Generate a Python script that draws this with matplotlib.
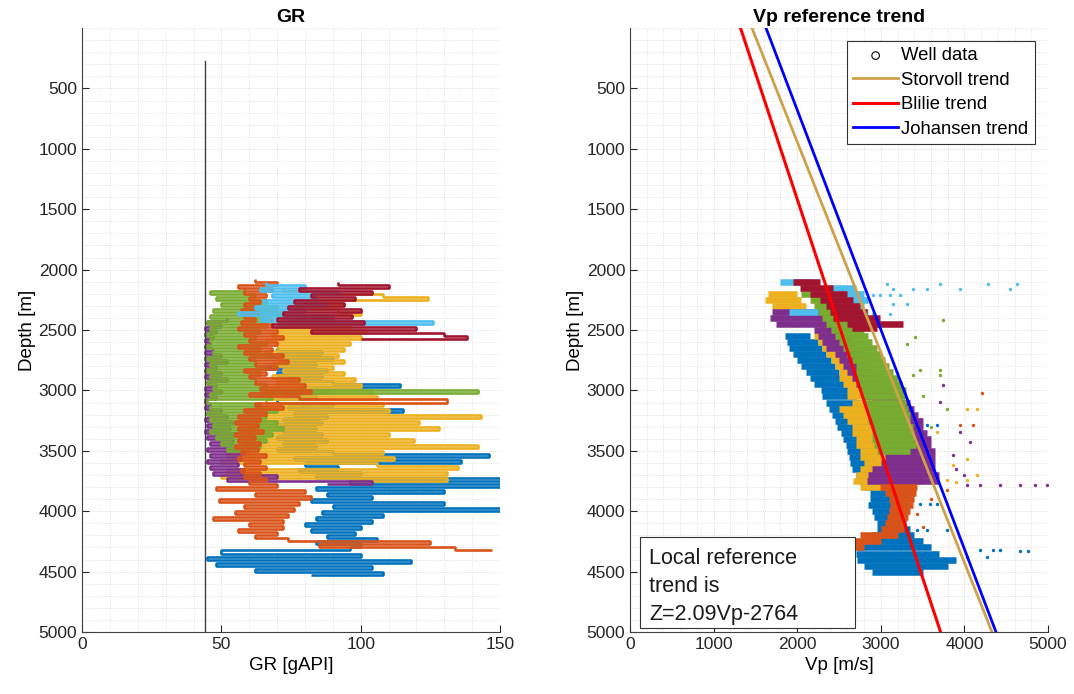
import numpy as np
import matplotlib.pyplot as plt
from matplotlib.patches import Rectangle
from matplotlib.ticker import MultipleLocator

plt.rcParams['font.family'] = ['Liberation Sans', 'DejaVu Sans']

# well colours (matlab default order)
c_blue = '#0072BD'
c_orange = '#D95319'
c_yellow = '#EDB120'
c_purple = '#7E2F8E'
c_green = '#77AC30'
c_lblue = '#4DBEEE'
c_dred = '#A2142F'

# ---------------- GR logs, one reading every 25 m from the top depth ----------------
gr_step = 25

gr_blue_top = 2650
gr_blue = [70, 86, 68, 90, 72, 84, 66, 88, 70, 86,
           74, 90, 114, 78, 88, 72, 84, 70, 90, 74,
           115, 76, 88, 72, 86, 70, 84, 72, 86, 70,
           88, 72, 84, 70, 90, 146, 76, 136, 80, 92,
           78, 100, 84, 152, 96, 155, 84, 130, 88, 104,
           82, 130, 90, 152, 86, 108, 84, 104, 80, 100,
           82, 98, 88, 106, 84, 100, 96, 50, 100, 45,
           118, 48, 104, 62, 108, 82]

gr_yellow_top = 2150
gr_yellow = [72, 90, 108, 124, 80, 94, 78, 92, 100, 76,
             90, 74, 96, 70, 102, 68, 100, 66, 96, 70,
             94, 66, 92, 70, 94, 68, 90, 72, 94, 68,
             98, 70, 100, 66, 104, 64, 106, 66, 108, 62,
             110, 64, 143, 62, 121, 60, 128, 58, 110, 56,
             119, 58, 142, 54, 108, 52, 112, 50, 106, 135,
             52, 131, 50, 131, 96]

gr_purple_top = 2400
gr_purple = [52, 45, 50, 44, 48, 44, 47, 44, 46, 44,
             47, 44, 50, 44, 52, 44, 48, 44, 50, 44,
             52, 45, 48, 44, 50, 44, 48, 44, 46, 44,
             50, 45, 52, 44, 54, 45, 53, 44, 55, 45,
             54, 46, 56, 45, 58, 46, 57, 45, 56, 46,
             58, 47, 70, 52, 104, 88]

gr_green_top = 2150
gr_green = [58, 46, 62, 48, 66, 50, 70, 47, 72, 46,
            68, 45, 66, 46, 64, 45, 62, 46, 66, 45,
            64, 47, 68, 45, 62, 46, 66, 45, 64, 46,
            62, 45, 66, 47, 142, 46, 68, 45, 64, 46,
            70, 45, 66, 46, 70, 47, 72, 46, 68, 48,
            66, 50, 64, 52, 60]

gr_orange_top = 2075
gr_orange = [62, 70, 56, 68, 58, 66, 60, 64, 58, 62,
             57, 63, 58, 62, 57, 68, 56, 70, 58, 72,
             60, 70, 56, 68, 58, 72, 60, 74, 62, 70,
             58, 66, 60, 78, 62, 80, 64, 82, 60, 78,
             131, 62, 72, 58, 66, 56, 64, 55, 63, 56,
             65, 55, 62, 56, 64, 55, 63, 57, 66, 56,
             64, 58, 66, 57, 64, 58, 66, 60, 70, 48,
             80, 62, 82, 49, 78, 58, 76, 55, 74, 47,
             72, 60, 72, 56, 70, 62, 74, 125, 85, 134,
             147]

gr_lblue_top = 2100
gr_lblue = [66, 80, 64, 92, 68, 84, 65, 88, 62, 80, 56, 90, 64, 126, 70]

gr_dred_top = 2100
gr_dred = [92, 110, 78, 104, 82, 98, 76, 94, 74, 100,
           72, 97, 70, 101, 68, 120, 82, 130, 138, 100]

# constant reference line on the GR track
cut_gr = [44.2, 44.2]
cut_depth = [270, 5000]

# ---------------- Vp ranges, every 50 m (low / high edge of the point cloud) ----------------
vp_step = 50

vp_blue_top = 2550
vp_blue_lo = [1850, 1880, 1900, 1950, 2000, 2050, 2100, 2150, 2200, 2280,
              2300, 2350, 2380, 2420, 2450, 2480, 2520, 2550, 2580, 2600,
              2620, 2630, 2650, 2700, 2750, 2800, 2870, 2870, 2850, 2900,
              2920, 2950, 2950, 2900, 2800, 2710, 2700, 2720, 2800, 2900]
vp_blue_hi = [2150, 2250, 2300, 2350, 2400, 2450, 2500, 2560, 2620, 2700,
              2720, 2760, 2800, 2820, 2830, 2850, 2860, 2880, 2900, 2900,
              2920, 2930, 2950, 3000, 3050, 3100, 3350, 3300, 3250, 3250,
              3300, 3300, 3350, 3400, 3500, 3600, 3700, 3900, 3800, 3500]

vp_yellow_top = 2200
vp_yellow_lo = [1650, 1620, 1700, 2050, 2200, 2250, 2300, 2200, 2250, 2300,
                2350, 2400, 2450, 2500, 2500, 2550, 2600, 2600, 2650, 2500,
                2550, 2600, 2650, 2650, 2700, 2700, 2750, 2750, 2800, 2750,
                2700, 2670, 2750]
vp_yellow_hi = [2000, 2050, 2100, 2350, 2500, 2550, 2600, 2550, 2600, 2650,
                2800, 2900, 2950, 3000, 3050, 3100, 3150, 3200, 3250, 3300,
                3350, 3400, 3450, 3500, 3500, 3550, 3550, 3600, 3600, 3600,
                3500, 3500, 3300]

vp_purple_top = 2350
vp_purple_lo = [1700, 1680, 1750, 2200, 2250, 2300, 2350, 2450, 2500, 2550,
                2600, 2650, 2700, 2750, 2800, 2900, 2950, 2950, 3000, 3000,
                3050, 3050, 3000, 3050, 3050, 3000, 2900, 2850, 2830, 3000]
vp_purple_hi = [2300, 2400, 2450, 2500, 2550, 2650, 2700, 2750, 2800, 2850,
                2900, 3000, 3100, 3200, 3250, 3350, 3400, 3450, 3500, 3500,
                3550, 3600, 3600, 3650, 3650, 3650, 3650, 3700, 3700, 3400]

vp_green_top = 2200
vp_green_lo = [2050, 2150, 2200, 2250, 2300, 2350, 2400, 2450, 2500, 2550,
               2600, 2650, 2700, 2700, 2720, 2740, 2760, 2780, 2800, 2820,
               2850, 2850, 2880, 2900, 2900, 2920, 2950]
vp_green_hi = [2300, 2400, 2500, 2600, 2650, 2750, 2800, 2850, 2900, 2950,
               3000, 3050, 3100, 3150, 3200, 3250, 3300, 3300, 3300, 3320,
               3350, 3350, 3380, 3400, 3400, 3420, 3350]

vp_orange_top = 3800
vp_orange_lo = [2990, 3050, 3100, 3110, 3100, 3080, 3050, 3000, 2750, 2450, 2430]
vp_orange_hi = [3430, 3420, 3400, 3390, 3350, 3330, 3300, 3280, 3200, 3000, 2800]

vp_lblue_depth = [2100, 2150, 2200, 2250, 2300, 2350, 2350, 2400, 2450]
vp_lblue_lo = [1800, 2400, 2500, 2550, 2500, 1900, 2600, 2600, 2650]
vp_lblue_hi = [2200, 2700, 2800, 2850, 2800, 2250, 2850, 2850, 2900]

vp_dred_depth = [2100, 2150, 2200, 2250, 2300, 2350, 2400, 2450, 2480]
vp_dred_lo = [1950, 2030, 2150, 2270, 2350, 2390, 2430, 2590, 2650]
vp_dred_hi = [2270, 2430, 2590, 2670, 2750, 2830, 2990, 3270, 2950]

# isolated points right of the clouds
sp_blue_d = [3290, 3290, 3938, 3938, 3938, 4159, 4159, 4159, 4325, 4325, 4325, 4380, 4380, 4330, 4330]
sp_blue_v = [3548, 3668, 3470, 3590, 3668, 3430, 3548, 3788, 4186, 4346, 4425, 4027, 4266, 4665, 4760]
sp_yellow_d = [3151, 3151, 3345, 3566, 3620, 3745, 3745, 3745, 3700, 3760]
sp_yellow_v = [4027, 4146, 3668, 4027, 3867, 3628, 3788, 4027, 4150, 3900]
sp_purple_d = [2958, 3096, 3345, 3427, 3538, 3786, 3786, 3786, 3786, 3786, 3786, 3650, 3700]
sp_purple_v = [3748, 3708, 3947, 4067, 3867, 4027, 4186, 4425, 4665, 4850, 4984, 3900, 4000]
sp_green_d = [2419, 2557, 2613, 2834, 2834, 2875, 2875, 3151, 3050, 3300]
sp_green_v = [3748, 3410, 3309, 3470, 3708, 3390, 3708, 3788, 3500, 3600]
sp_orange_d = [3096, 3234, 3290, 3290, 3024, 3828, 4021, 4132, 3900]
sp_orange_v = [3309, 3468, 3947, 4106, 4211, 3788, 3430, 3508, 3600]
sp_lblue_d = [2115, 2115, 2115, 2115, 2157, 2157, 2157, 2157, 2157, 2212, 2212, 2212, 2212, 2281, 2281, 2364, 2364]
sp_lblue_v = [3070, 3708, 4286, 4625, 3150, 3390, 3548, 3947, 4545, 2910, 2990, 3110, 3230, 3150, 3310, 2910, 3110]

# trend lines (end points)
trend_depth = [0, 5000]
storvoll_vp = [1459, 4330]
blilie_vp = [1322, 3715]
johansen_vp = [1627, 4378]


def style_axes(ax):
    for s in ['top', 'right']:
        ax.spines[s].set_visible(False)
    for s in ['left', 'bottom']:
        ax.spines[s].set_color('#404040')
        ax.spines[s].set_linewidth(0.8)
    ax.tick_params(which='major', direction='in', length=5, width=0.8,
                   labelsize=12.5, colors='#262626')
    ax.tick_params(which='minor', length=0)
    ax.grid(True, which='major', color='#D2D2D2', lw=0.6, ls=':')
    ax.grid(True, which='minor', color='#D8D8D8', lw=0.6, ls=':')
    ax.set_axisbelow(True)
    ax.set_ylim(5000, 0)
    ax.set_yticks(np.arange(500, 5001, 500))
    ax.yaxis.set_minor_locator(MultipleLocator(100))
    ax.set_ylabel('Depth [m]', fontsize=13.5, labelpad=2)


fig = plt.figure(figsize=(10.74, 6.94), dpi=100)
ax1 = fig.add_axes([0.0764, 0.0893, 0.3892, 0.8703])
ax2 = fig.add_axes([0.5866, 0.0893, 0.3892, 0.8703])

# ---- GR track ----
gr_logs = [(gr_blue_top, gr_blue, c_blue),
           (gr_yellow_top, gr_yellow, c_yellow),
           (gr_purple_top, gr_purple, c_purple),
           (gr_green_top, gr_green, c_green),
           (gr_orange_top, gr_orange, c_orange),
           (gr_lblue_top, gr_lblue, c_lblue),
           (gr_dred_top, gr_dred, c_dred)]
for top, gr, col in gr_logs:
    depth = top + gr_step * np.arange(len(gr))
    ax1.plot(gr, depth, color=col, lw=1.9, drawstyle='steps-pre',
             solid_joinstyle='bevel', solid_capstyle='butt')
ax1.plot(cut_gr, cut_depth, color='#404040', lw=1.0)

style_axes(ax1)
ax1.set_xlim(0, 150)
ax1.set_xticks([0, 50, 100, 150])
ax1.xaxis.set_minor_locator(MultipleLocator(10))
ax1.set_xlabel('GR [gAPI]', fontsize=13.5)
ax1.set_title('GR', fontsize=14, fontweight='bold', pad=4)

# ---- Vp track ----
vp_bands = [(vp_blue_top + vp_step * np.arange(len(vp_blue_lo)), vp_blue_lo, vp_blue_hi, c_blue),
            (vp_yellow_top + vp_step * np.arange(len(vp_yellow_lo)), vp_yellow_lo, vp_yellow_hi, c_yellow),
            (vp_purple_top + vp_step * np.arange(len(vp_purple_lo)), vp_purple_lo, vp_purple_hi, c_purple),
            (vp_green_top + vp_step * np.arange(len(vp_green_lo)), vp_green_lo, vp_green_hi, c_green),
            (vp_orange_top + vp_step * np.arange(len(vp_orange_lo)), vp_orange_lo, vp_orange_hi, c_orange),
            (vp_lblue_depth, vp_lblue_lo, vp_lblue_hi, c_lblue),
            (vp_dred_depth, vp_dred_lo, vp_dred_hi, c_dred)]
for depth, lo, hi, col in vp_bands:
    ax2.hlines(depth, lo, hi, colors=col, lw=4.7)

sparse = [(sp_blue_d, sp_blue_v, c_blue), (sp_yellow_d, sp_yellow_v, c_yellow),
          (sp_purple_d, sp_purple_v, c_purple), (sp_green_d, sp_green_v, c_green),
          (sp_orange_d, sp_orange_v, c_orange), (sp_lblue_d, sp_lblue_v, c_lblue)]
for d, v, col in sparse:
    ax2.scatter(v, d, s=6, color=col, linewidths=0)

h0 = ax2.scatter([], [], marker='o', s=30, facecolors='none', edgecolors='k', linewidths=0.8)
h1, = ax2.plot(storvoll_vp, trend_depth, color='#CFA04A', lw=2)
h2, = ax2.plot(blilie_vp, trend_depth, color='#FF0000', lw=2.2)
h3, = ax2.plot(johansen_vp, trend_depth, color='#0000FF', lw=2)

style_axes(ax2)
ax2.set_xlim(0, 5000)
ax2.set_xticks(np.arange(0, 5001, 1000))
ax2.xaxis.set_minor_locator(MultipleLocator(200))
ax2.set_xlabel('Vp [m/s]', fontsize=13.5)
ax2.set_title('Vp reference trend', fontsize=14, fontweight='bold', pad=4)

leg = ax2.legend([h0, h1, h2, h3],
                 ['Well data', 'Storvoll trend', 'Blilie trend', 'Johansen trend'],
                 loc='upper right', fontsize=13.3, fancybox=False, framealpha=1,
                 edgecolor='#333333', borderpad=0.35, labelspacing=0.4,
                 handlelength=2.4, handletextpad=0.2, borderaxespad=0.7)
leg.get_frame().set_linewidth(0.8)

ax2.add_patch(Rectangle((0.024, 0.0066), 0.514, 0.150, transform=ax2.transAxes,
                        facecolor='white', edgecolor='#333333', lw=0.8, zorder=5))
ax2.text(0.046, 0.139, 'Local reference\ntrend is\nZ=2.09Vp-2764', transform=ax2.transAxes,
         ha='left', va='top', fontsize=15.5, linespacing=1.45, color='#1a1a1a', zorder=6)

fig.savefig('out.png', dpi=100)
